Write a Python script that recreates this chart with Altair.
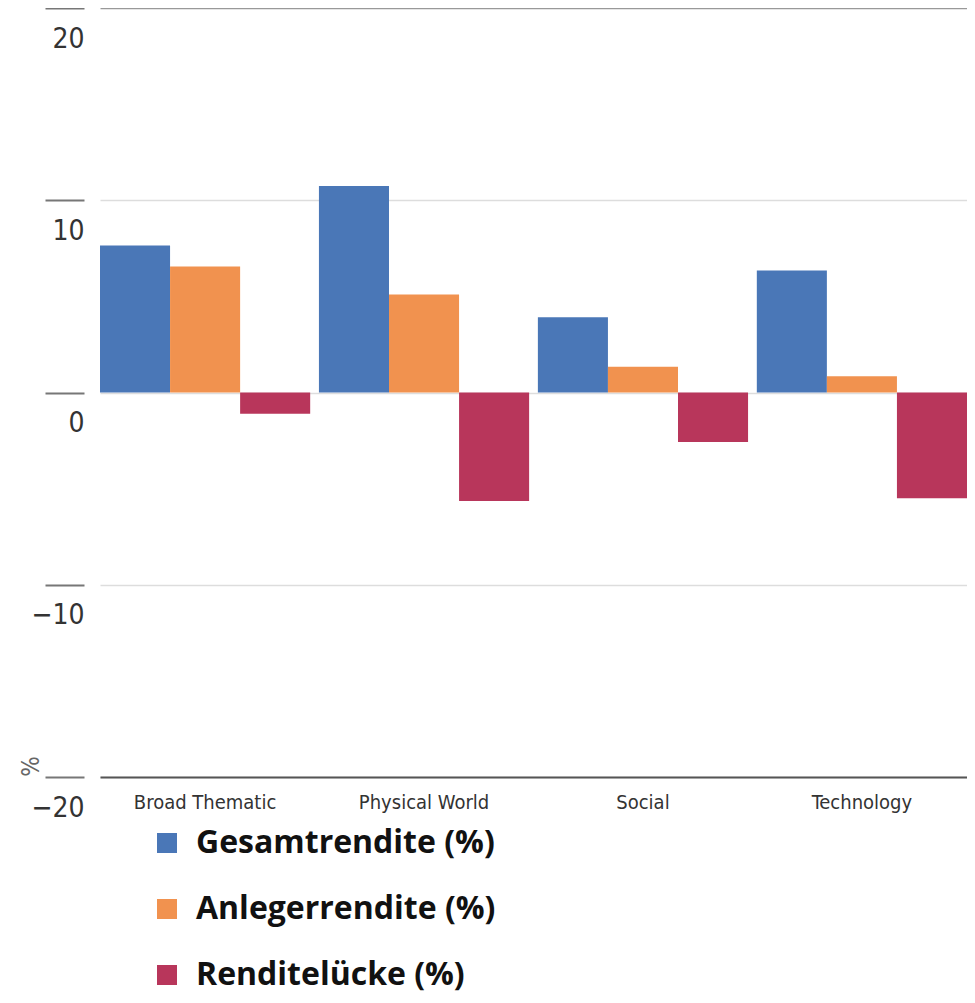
import altair as alt
import pandas as pd

categories = ["Broad Thematic", "Physical World", "Social", "Technology"]
series = ["Gesamtrendite (%)", "Anlegerrendite (%)", "Renditelücke (%)"]
gesamt = [7.64, 10.74, 3.92, 6.34]
anleger = [6.55, 5.10, 1.34, 0.84]
luecke = [-1.10, -5.65, -2.58, -5.50]
colors = ["#4a77b7", "#f1924f", "#b8365b"]
y_ticks = [-20, -10, 0, 10, 20]

rows = []
for i, c in enumerate(categories):
    for s, vals in zip(series, [gesamt, anleger, luecke]):
        rows.append({"Kategorie": c, "Serie": s, "Wert": vals[i]})
df = pd.DataFrame(rows)

label_font = "DejaVu Sans Condensed, Liberation Sans Narrow, Roboto, sans-serif"

chart = alt.Chart(df).mark_bar(opacity=1).encode(
    x=alt.X("Kategorie:N", sort=categories,
            scale=alt.Scale(paddingInner=0.04, paddingOuter=0),
            axis=alt.Axis(title=None, labelAngle=0, ticks=False, domain=True,
                          domainColor="#555555", domainWidth=2,
                          labelFont=label_font, labelFontSize=20,
                          labelColor="#333333", labelPadding=15)),
    xOffset=alt.XOffset("Serie:N", sort=series,
                        scale=alt.Scale(paddingInner=0, paddingOuter=0)),
    y=alt.Y("Wert:Q",
            scale=alt.Scale(domain=[-20, 20], nice=False, zero=False),
            axis=alt.Axis(values=y_ticks, title="%", titleAngle=270,
                          titleFont=label_font, titleFontSize=24,
                          titleFontWeight="normal", titleColor="#666666",
                          titleX=-53, titleY=758, titleAlign="center",
                          titleBaseline="middle",
                          domain=False, offset=16, tickSize=39,
                          tickColor="#777777", tickWidth=2,
                          labelPadding=-39, labelAlign="right",
                          labelBaseline="top", labelOffset=17,
                          labelFont=label_font, labelFontSize=28,
                          labelColor="#333333",
                          grid=True,
                          gridColor={"condition": {"test": "datum.value == 20", "value": "#999999"},
                                     "value": "#dddddd"},
                          gridWidth=1.5)),
    color=alt.Color("Serie:N", sort=series,
                    scale=alt.Scale(domain=series, range=colors),
                    legend=alt.Legend(title=None, orient="none", legendX=51, legendY=819,
                                      direction="vertical",
                                      symbolType="square", symbolSize=400,
                                      symbolStrokeWidth=0, symbolOpacity=1,
                                      labelFont="Open Sans", labelFontWeight="bold",
                                      labelFontSize=32, labelColor="#111111",
                                      labelOffset=13, rowPadding=34,
                                      labelLimit=600)),
).properties(
    width=867, height=769,
    autosize=alt.AutoSizeParams(type="none"),
    padding={"left": 92, "top": 0, "right": 0, "bottom": 217},
).configure_view(stroke=None)

chart.save("out.html", embed_options={"renderer": "svg", "actions": False})
